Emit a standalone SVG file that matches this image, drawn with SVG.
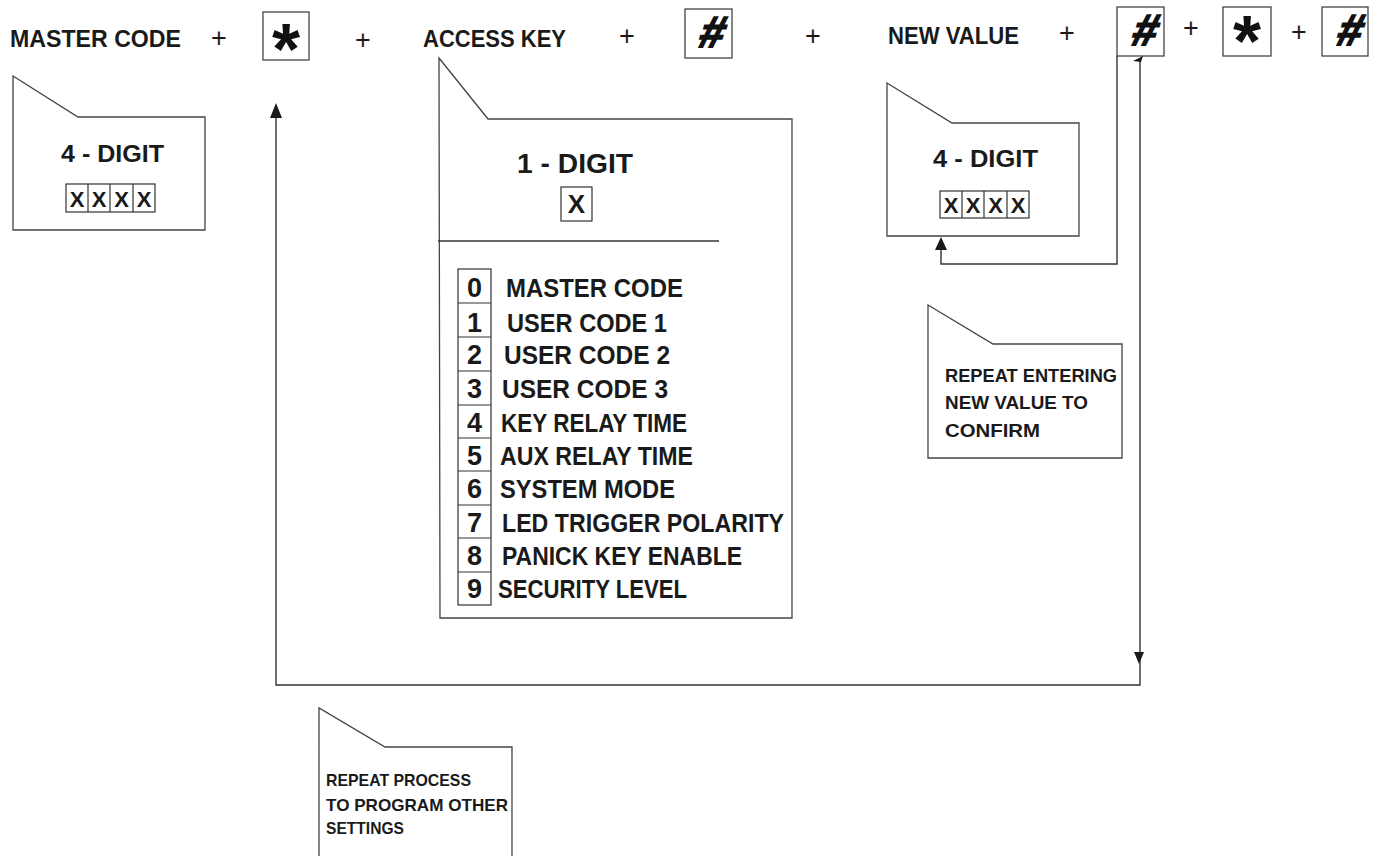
<svg xmlns="http://www.w3.org/2000/svg" width="1377" height="856" viewBox="0 0 1377 856">
<defs>
<style>
.lbl{font-family:"Liberation Sans",Arial,sans-serif;font-weight:bold;fill:#1a1a1a}
.top{font-size:24px}
.plus{font-family:"Liberation Sans",Arial,sans-serif;font-size:27px;fill:#1a1a1a;text-anchor:middle}
.key{fill:none;stroke:#444;stroke-width:1.3}
.co{fill:#fff;stroke:#444;stroke-width:1.3}
.cell{fill:none;stroke:#333;stroke-width:1.2}
.ln{fill:none;stroke:#333;stroke-width:1.4}
.dig{font-size:27px}
.item{font-size:26px}
.note{font-size:18px}
.sym{font-family:"Liberation Sans",Arial,sans-serif;font-weight:bold;fill:#111;text-anchor:middle}
.hash{font-size:44px;stroke:#111;stroke-width:1.8}
.star{font-size:72px}
.ah{fill:#1a1a1a}
</style>
</defs>
<rect width="1377" height="856" fill="#fff"/>

<g id="seq">
<text class="lbl top" x="10" y="47" textLength="171" lengthAdjust="spacingAndGlyphs">MASTER CODE</text>
<text class="plus" x="219" y="47">+</text>
<g id="key-star1"><rect class="key" x="263" y="12" width="46" height="48"/><text class="sym star" x="286" y="74">*</text></g>
<text class="plus" x="363" y="49">+</text>
<text class="lbl top" x="423" y="47" textLength="143" lengthAdjust="spacingAndGlyphs">ACCESS KEY</text>
<text class="plus" x="627" y="45">+</text>
<g id="key-hash1"><rect class="key" x="685" y="9" width="47" height="49"/><text class="sym hash" transform="translate(709,47) skewX(-16)">#</text></g>
<text class="plus" x="813" y="45">+</text>
<text class="lbl top" x="888" y="44" textLength="131" lengthAdjust="spacingAndGlyphs">NEW VALUE</text>
<text class="plus" x="1067" y="42">+</text>
<g id="key-hash2"><rect class="key" x="1117" y="7" width="47" height="49"/><text class="sym hash" transform="translate(1142,45) skewX(-16)">#</text></g>
<text class="plus" x="1191" y="37">+</text>
<g id="key-star2"><rect class="key" x="1223" y="7" width="48" height="49"/><text class="sym star" x="1247" y="66">*</text></g>
<text class="plus" x="1299" y="41">+</text>
<g id="key-hash3"><rect class="key" x="1322" y="7" width="46" height="49"/><text class="sym hash" transform="translate(1347,45) skewX(-16)">#</text></g>
</g>

<g id="callout-master">
<path class="co" d="M13,76 L78,117 L205,117 L205,230 L13,230 Z"/>
<text class="lbl" x="61" y="162" font-size="24" textLength="103" lengthAdjust="spacingAndGlyphs">4 - DIGIT</text>
<rect class="cell" x="66" y="184" width="89" height="28"/>
<line class="cell" x1="88" y1="184" x2="88" y2="212"/><line class="cell" x1="110" y1="184" x2="110" y2="212"/><line class="cell" x1="133" y1="184" x2="133" y2="212"/>
<g class="lbl" font-size="22" text-anchor="middle"><text x="77" y="207">X</text><text x="99" y="207">X</text><text x="121.5" y="207">X</text><text x="144" y="207">X</text></g>
</g>

<g id="callout-access">
<path class="co" d="M439,58 L488,119 L792,119 L792,618 L440,618 Z"/>
<text class="lbl" x="517" y="173" font-size="27" textLength="116" lengthAdjust="spacingAndGlyphs">1 - DIGIT</text>
<rect class="cell" x="561" y="187" width="31" height="34"/>
<text class="lbl" x="576.5" y="213" font-size="26" text-anchor="middle">X</text>
<line class="ln" x1="438" y1="241" x2="719" y2="241"/>
<rect class="cell" x="458" y="269" width="33" height="336"/>
<g class="cell">
<line x1="458" y1="303" x2="491" y2="303"/><line x1="458" y1="337" x2="491" y2="337"/><line x1="458" y1="371" x2="491" y2="371"/><line x1="458" y1="405" x2="491" y2="405"/><line x1="458" y1="438" x2="491" y2="438"/><line x1="458" y1="471" x2="491" y2="471"/><line x1="458" y1="505" x2="491" y2="505"/><line x1="458" y1="538" x2="491" y2="538"/><line x1="458" y1="572" x2="491" y2="572"/>
</g>
<g class="lbl dig" text-anchor="middle">
<text x="474.5" y="297">0</text><text x="474.5" y="332">1</text><text x="474.5" y="364">2</text><text x="474.5" y="398">3</text><text x="474.5" y="432">4</text><text x="474.5" y="465">5</text><text x="474.5" y="498">6</text><text x="474.5" y="532">7</text><text x="474.5" y="565">8</text><text x="474.5" y="598">9</text>
</g>
<g class="lbl item">
<text x="506" y="297" textLength="177" lengthAdjust="spacingAndGlyphs">MASTER CODE</text>
<text x="507" y="332" textLength="160" lengthAdjust="spacingAndGlyphs">USER CODE 1</text>
<text x="504" y="364" textLength="166" lengthAdjust="spacingAndGlyphs">USER CODE 2</text>
<text x="502" y="398" textLength="166" lengthAdjust="spacingAndGlyphs">USER CODE 3</text>
<text x="501" y="432" textLength="186" lengthAdjust="spacingAndGlyphs">KEY RELAY TIME</text>
<text x="500" y="465" textLength="193" lengthAdjust="spacingAndGlyphs">AUX RELAY TIME</text>
<text x="500" y="498" textLength="175" lengthAdjust="spacingAndGlyphs">SYSTEM MODE</text>
<text x="502" y="532" textLength="282" lengthAdjust="spacingAndGlyphs">LED TRIGGER POLARITY</text>
<text x="502" y="565" textLength="240" lengthAdjust="spacingAndGlyphs">PANICK KEY ENABLE</text>
<text x="498" y="598" textLength="189" lengthAdjust="spacingAndGlyphs">SECURITY LEVEL</text>
</g>
</g>

<g id="callout-newvalue">
<path class="co" d="M887,83 L952,123 L1079,123 L1079,236 L887,236 Z"/>
<text class="lbl" x="933" y="167" font-size="24" textLength="105" lengthAdjust="spacingAndGlyphs">4 - DIGIT</text>
<rect class="cell" x="940" y="191" width="89" height="27"/>
<line class="cell" x1="962" y1="191" x2="962" y2="218"/><line class="cell" x1="984" y1="191" x2="984" y2="218"/><line class="cell" x1="1007" y1="191" x2="1007" y2="218"/>
<g class="lbl" font-size="22" text-anchor="middle"><text x="951" y="213">X</text><text x="973" y="213">X</text><text x="995.5" y="213">X</text><text x="1018" y="213">X</text></g>
</g>

<g id="callout-repeat-confirm">
<path class="co" d="M928,305 L993,344 L1122,344 L1122,458 L928,458 Z"/>
<g class="lbl note">
<text x="945" y="382" textLength="172" lengthAdjust="spacingAndGlyphs">REPEAT ENTERING</text>
<text x="945" y="409" textLength="143" lengthAdjust="spacingAndGlyphs">NEW VALUE TO</text>
<text x="945" y="437" textLength="95" lengthAdjust="spacingAndGlyphs">CONFIRM</text>
</g>
</g>

<g id="callout-repeat-process">
<path class="co" d="M319,858 L319,708 L385,747 L512,747 L512,858"/>
<g class="lbl" font-size="17">
<text x="326" y="786" textLength="145" lengthAdjust="spacingAndGlyphs">REPEAT PROCESS</text>
<text x="326" y="811" textLength="182" lengthAdjust="spacingAndGlyphs">TO PROGRAM OTHER</text>
<text x="326" y="834" textLength="78" lengthAdjust="spacingAndGlyphs">SETTINGS</text>
</g>
</g>

<g id="connectors">
<path class="ln" d="M1140,58 L1140,685 L276,685 L276,112"/>
<polygon class="ah" points="276,103 282,118 270,118"/>
<polygon class="ah" points="1139,664 1134,652 1144,652"/>
<polygon class="ah" points="1133,61 1143,56 1141,62"/>
<path class="ln" d="M1117,56 L1117,264 L941,264 L941,245"/>
<polygon class="ah" points="941,237 947,250 935,250"/>
</g>
</svg>
